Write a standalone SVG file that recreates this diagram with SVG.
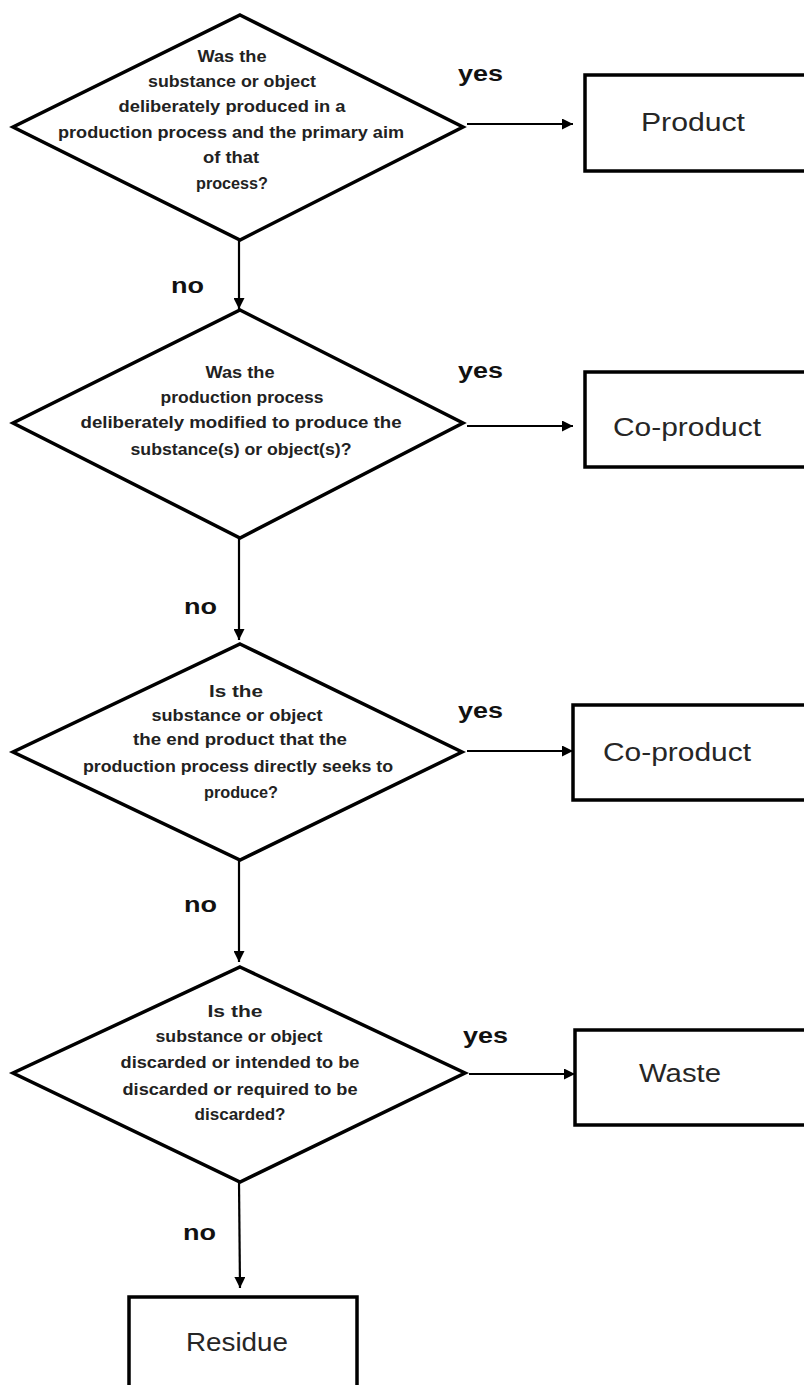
<svg xmlns="http://www.w3.org/2000/svg" width="804" height="1385" viewBox="0 0 804 1385">
<style>
.dia{fill:#fff;stroke:#000;stroke-width:3.5;stroke-linejoin:miter}
.box{fill:#fff;stroke:#000;stroke-width:3.5}
.q{font-family:"Liberation Sans",Arial,sans-serif;font-weight:bold;font-size:16px;fill:#222;text-anchor:middle}
.lbl{font-family:"Liberation Sans",Arial,sans-serif;font-size:25px;fill:#262626;text-anchor:middle}
.yn{font-family:"Liberation Sans",Arial,sans-serif;font-weight:bold;font-size:22px;fill:#111}
.conn{stroke:#000;stroke-width:2.2;fill:none;marker-end:url(#ah)}
</style>
<defs>
<marker id="ah" viewBox="0 0 10 10" refX="10" refY="5" markerWidth="5" markerHeight="5" markerUnits="strokeWidth" orient="auto">
<path d="M0,0 L10,5 L0,10 z" fill="#000"/>
</marker>
</defs>
<rect width="804" height="1385" fill="#fff"/>

<g id="connectors">
<line class="conn" x1="467" y1="124" x2="573" y2="124"/>
<line class="conn" x1="467" y1="426" x2="573" y2="426"/>
<line class="conn" x1="467" y1="751" x2="573" y2="751"/>
<line class="conn" x1="469" y1="1074" x2="575" y2="1074"/>
<line class="conn" x1="239" y1="240" x2="239" y2="309"/>
<line class="conn" x1="239" y1="538" x2="239" y2="640"/>
<line class="conn" x1="239" y1="860" x2="239" y2="962"/>
<line class="conn" x1="239" y1="1182" x2="240" y2="1288"/>
<text class="yn" x="458" y="81" textLength="45" lengthAdjust="spacingAndGlyphs">yes</text>
<text class="yn" x="458" y="378" textLength="45" lengthAdjust="spacingAndGlyphs">yes</text>
<text class="yn" x="458" y="718" textLength="45" lengthAdjust="spacingAndGlyphs">yes</text>
<text class="yn" x="463" y="1043" textLength="45" lengthAdjust="spacingAndGlyphs">yes</text>
<text class="yn" x="171" y="293" textLength="33" lengthAdjust="spacingAndGlyphs">no</text>
<text class="yn" x="184" y="614" textLength="33" lengthAdjust="spacingAndGlyphs">no</text>
<text class="yn" x="184" y="912" textLength="33" lengthAdjust="spacingAndGlyphs">no</text>
<text class="yn" x="183" y="1240" textLength="33" lengthAdjust="spacingAndGlyphs">no</text>
</g>

<g id="d1">
<polygon class="dia" points="240,15 463,127 240,240 13,127"/>
<text class="q" x="232" y="62" textLength="69" lengthAdjust="spacingAndGlyphs">Was the</text>
<text class="q" x="232" y="87" textLength="168" lengthAdjust="spacingAndGlyphs">substance or object</text>
<text class="q" x="232" y="112" textLength="227" lengthAdjust="spacingAndGlyphs">deliberately produced in a</text>
<text class="q" x="231" y="138" textLength="346" lengthAdjust="spacingAndGlyphs">production process and the primary aim</text>
<text class="q" x="231" y="163" textLength="56" lengthAdjust="spacingAndGlyphs">of that</text>
<text class="q" x="232" y="189" textLength="72" lengthAdjust="spacingAndGlyphs">process?</text>
</g>

<g id="product">
<rect class="box" x="585" y="75" width="230" height="96"/>
<text class="lbl" x="693" y="131" textLength="104" lengthAdjust="spacingAndGlyphs">Product</text>
</g>

<g id="d2">
<polygon class="dia" points="240,310 463,423 240,538 13,423"/>
<text class="q" x="240" y="378" textLength="69" lengthAdjust="spacingAndGlyphs">Was the</text>
<text class="q" x="242" y="403" textLength="163" lengthAdjust="spacingAndGlyphs">production process</text>
<text class="q" x="241" y="428" textLength="321" lengthAdjust="spacingAndGlyphs">deliberately modified to produce the</text>
<text class="q" x="241" y="455" textLength="221" lengthAdjust="spacingAndGlyphs">substance(s) or object(s)?</text>
</g>

<g id="coproduct1">
<rect class="box" x="585" y="372" width="230" height="95"/>
<text class="lbl" x="687" y="436" textLength="148" lengthAdjust="spacingAndGlyphs">Co-product</text>
</g>

<g id="d3">
<polygon class="dia" points="240,644 462,752 240,860 13,752"/>
<text class="q" x="236" y="697" textLength="54" lengthAdjust="spacingAndGlyphs">Is the</text>
<text class="q" x="237" y="721" textLength="171" lengthAdjust="spacingAndGlyphs">substance or object</text>
<text class="q" x="240" y="745" textLength="214" lengthAdjust="spacingAndGlyphs">the end product that the</text>
<text class="q" x="238" y="772" textLength="310" lengthAdjust="spacingAndGlyphs">production process directly seeks to</text>
<text class="q" x="241" y="798" textLength="74" lengthAdjust="spacingAndGlyphs">produce?</text>
</g>

<g id="coproduct2">
<rect class="box" x="573" y="705" width="242" height="95"/>
<text class="lbl" x="677" y="761" textLength="148" lengthAdjust="spacingAndGlyphs">Co-product</text>
</g>

<g id="d4">
<polygon class="dia" points="240,967 465,1073 240,1182 13,1073"/>
<text class="q" x="235" y="1017" textLength="55" lengthAdjust="spacingAndGlyphs">Is the</text>
<text class="q" x="239" y="1042" textLength="167" lengthAdjust="spacingAndGlyphs">substance or object</text>
<text class="q" x="240" y="1068" textLength="239" lengthAdjust="spacingAndGlyphs">discarded or intended to be</text>
<text class="q" x="240" y="1095" textLength="235" lengthAdjust="spacingAndGlyphs">discarded or required to be</text>
<text class="q" x="240" y="1120" textLength="91" lengthAdjust="spacingAndGlyphs">discarded?</text>
</g>

<g id="waste">
<rect class="box" x="575" y="1030" width="240" height="95"/>
<text class="lbl" x="680" y="1082" textLength="82" lengthAdjust="spacingAndGlyphs">Waste</text>
</g>

<g id="residue">
<rect class="box" x="129" y="1297" width="228" height="120"/>
<text class="lbl" x="237" y="1351" textLength="102" lengthAdjust="spacingAndGlyphs">Residue</text>
</g>
</svg>
